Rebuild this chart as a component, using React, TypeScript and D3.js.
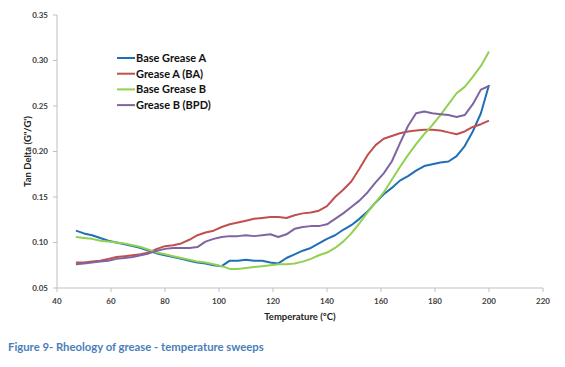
import React from "react";
import * as d3 from "d3";

const temps = [47,50,53,56,59,62,65,68,71,74,77,80,83,86,89,92,95,98,101,104,107,110,113,116,119,122,125,128,131,134,137,140,143,146,149,152,155,158,161,164,167,170,173,176,179,182,185,188,191,194,197,200];

const baseGreaseA = [.113,.110,.108,.105,.102,.100,.098,.096,.094,.091,.088,.086,.084,.082,.080,.078,.077,.075,.074,.080,.080,.081,.080,.080,.078,.077,.083,.087,.091,.094,.099,.104,.108,.114,.119,.126,.134,.144,.153,.160,.168,.173,.179,.184,.186,.188,.189,.195,.206,.222,.242,.273];
const greaseABA = [.078,.078,.079,.080,.082,.084,.085,.086,.087,.089,.093,.096,.097,.099,.103,.108,.111,.113,.117,.120,.122,.124,.126,.127,.128,.128,.127,.130,.132,.133,.135,.140,.150,.158,.167,.181,.196,.207,.214,.217,.220,.222,.223,.224,.224,.223,.221,.219,.222,.227,.230,.234];
const baseGreaseB = [.106,.105,.104,.102,.101,.100,.099,.097,.095,.092,.089,.087,.085,.083,.081,.079,.078,.076,.074,.071,.071,.072,.073,.074,.075,.076,.076,.077,.079,.082,.086,.089,.094,.101,.110,.121,.133,.144,.155,.169,.183,.196,.208,.219,.229,.240,.252,.264,.271,.282,.294,.310];
const greaseBBPD = [.076,.077,.078,.079,.080,.082,.083,.084,.086,.088,.091,.093,.094,.094,.094,.095,.101,.104,.106,.107,.107,.108,.107,.108,.109,.106,.109,.115,.117,.118,.118,.120,.126,.132,.139,.146,.155,.166,.176,.189,.209,.228,.242,.244,.242,.241,.240,.238,.240,.252,.268,.272];

const seriesNames = ["Base Grease A", "Grease A (BA)", "Base Grease B", "Grease B (BPD)"];
const seriesValues = [baseGreaseA, greaseABA, baseGreaseB, greaseBBPD];
const seriesColors = ["#1f6fb6", "#c0504d", "#92d050", "#8064a2"];

const xTicks = [40, 60, 80, 100, 120, 140, 160, 180, 200, 220];
const yTicks = [0.05, 0.10, 0.15, 0.20, 0.25, 0.30, 0.35];

const xLabel = "Temperature (°C)";
const yLabel = "Tan Delta (G\"/G')";
const caption = "Figure 9- Rheology of grease - temperature sweeps";

export default function App() {
  const W = 565, H = 367;
  const left = 57, right = 543, top = 15, bottom = 288;
  const x = d3.scaleLinear().domain([40, 220]).range([left, right]);
  const y = d3.scaleLinear().domain([0.05, 0.35]).range([bottom, top]);
  const line = d3.line<[number, number]>().x(d => x(d[0])).y(d => y(d[1])).curve(d3.curveLinear);
  const font = "Lato, 'Open Sans', sans-serif";
  const axisColor = "#bfbfbf";
  const tickText = "#404040";

  return (
    <svg width={W} height={H} style={{ position: "absolute", left: 0, top: 0, background: "#fff" }} fontFamily={font}>
      <rect x={0} y={0} width={W} height={H} fill="#fff" />
      <line x1={left} x2={left} y1={top} y2={bottom} stroke={axisColor} strokeWidth={1} />
      {yTicks.map(t => (
        <g key={"y" + t}>
          <line x1={left - 4} x2={left} y1={y(t)} y2={y(t)} stroke={axisColor} />
          <text x={left - 9} y={y(t)} dy="0.35em" textAnchor="end" fontSize={8} fontWeight={700} fill={tickText}>{t.toFixed(2)}</text>
        </g>
      ))}
      <line x1={left} x2={right} y1={bottom} y2={bottom} stroke={axisColor} strokeWidth={1} />
      {xTicks.map(t => (
        <g key={"x" + t}>
          <line x1={x(t)} x2={x(t)} y1={bottom} y2={bottom + 4} stroke={axisColor} />
          <text x={x(t)} y={bottom + 16} textAnchor="middle" fontSize={8} fontWeight={700} fill={tickText}>{t}</text>
        </g>
      ))}
      {seriesValues.map((vals, i) => (
        <path key={"s" + i} d={line(temps.map((t, j) => [t, vals[j]] as [number, number])) || ""} fill="none" stroke={seriesColors[i]} strokeWidth={2} strokeLinejoin="round" />
      ))}
      <text x={300} y={320} textAnchor="middle" fontSize={9.5} fontWeight={700} fill="#222">{xLabel}</text>
      <text transform={`translate(31,${(top + bottom) / 2}) rotate(-90)`} textAnchor="middle" fontSize={9.5} fontWeight={700} fill="#222">{yLabel}</text>
      {seriesNames.map((n, i) => (
        <g key={"l" + i} transform={`translate(117,${58 + i * 15.7})`}>
          <line x1={0} x2={18} y1={0} y2={0} stroke={seriesColors[i]} strokeWidth={2} />
          <text x={19} y={0} dy="0.36em" fontSize={11} fontWeight={700} fill="#111">{n}</text>
        </g>
      ))}
      <text x={8} y={351} fontSize={11.3} fontWeight={700} fill="#4a7ebb">{caption}</text>
    </svg>
  );
}
